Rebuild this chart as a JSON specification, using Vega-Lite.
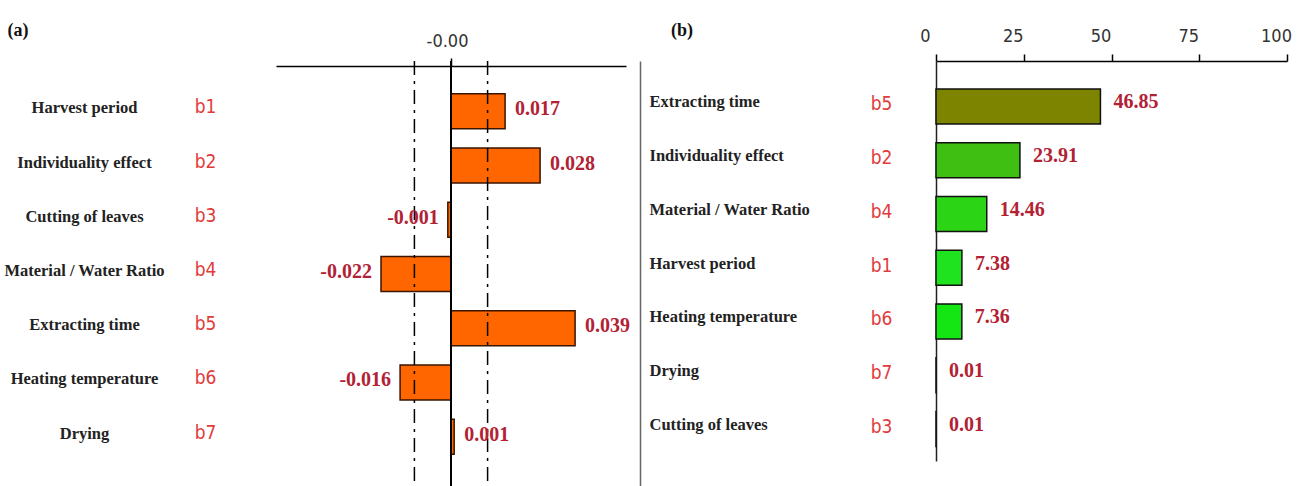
{
  "$schema": "https://vega.github.io/schema/vega-lite/v6.json",
  "background": "white",
  "padding": {"left": 3, "top": 22, "right": 0, "bottom": 0},
  "config": {
    "view": {"stroke": null},
    "axis": {"grid": false},
    "locale": {"number": {"decimal": ".", "thousands": ",", "grouping": [3], "currency": ["$", ""], "minus": "-"}}
  },
  "bounds": "flush",
  "spacing": 310,
  "hconcat": [
    {
      "title": {"text": "(a)", "anchor": "start", "frame": "bounds", "font": "Liberation Serif", "fontSize": 18, "fontWeight": "bold", "color": "#111", "offset": 0, "dx": 4, "dy": 22, "baseline": "alphabetic"},
      "width": 350,
      "height": 426,
      "data": {"values": [
        {"factor": "Harvest period", "code": "b1", "coef": 0.017},
        {"factor": "Individuality effect", "code": "b2", "coef": 0.028},
        {"factor": "Cutting of leaves", "code": "b3", "coef": -0.001},
        {"factor": "Material / Water Ratio", "code": "b4", "coef": -0.022},
        {"factor": "Extracting time", "code": "b5", "coef": 0.039},
        {"factor": "Heating temperature", "code": "b6", "coef": -0.016},
        {"factor": "Drying", "code": "b7", "coef": 0.001}
      ]},
      "resolve": {"scale": {"y": "independent"}, "axis": {"y": "independent"}},
      "layer": [
        {
          "mark": {"type": "bar", "fill": "#FF6600", "stroke": "#3a1500", "strokeWidth": 1.5},
          "encoding": {
            "y": {"field": "factor", "type": "nominal", "sort": null,
              "scale": {"type": "band", "paddingInner": 0.355, "paddingOuter": 0.604, "align": 0.5},
              "axis": {"orient": "left", "title": null, "domain": false, "ticks": false, "tickSize": 0, "labelPadding": 192, "labelAlign": "center", "labelFont": "Liberation Serif", "labelFontWeight": "bold", "labelFontSize": 16.5, "labelColor": "#222", "labelLimit": 300, "labelOffset": -3}},
            "x": {"field": "coef", "type": "quantitative",
              "scale": {"domain": [-0.055, 0.055], "nice": false, "zero": false},
              "axis": {"orient": "top", "title": null, "values": [0], "labelExpr": "'-0.00'", "offset": -5, "domainColor": "#000", "domainWidth": 1.5, "tickColor": "#000", "tickWidth": 1.5, "tickSize": 8, "labelPadding": 8, "labelFont": "Liberation Sans Narrow, DejaVu Sans Condensed, Liberation Sans", "labelFontSize": 18, "labelColor": "#333", "labelOffset": -4, "grid": false}}
          }
        },
        {
          "data": {"values": [{"limit": -0.0115}, {"limit": 0.0115}]},
          "mark": {"type": "rule", "color": "#000", "strokeWidth": 1.5, "strokeDash": [14, 6, 3, 6]},
          "encoding": {"x": {"field": "limit", "type": "quantitative"}}
        },
        {
          "mark": {"type": "rule", "color": "#000", "strokeWidth": 1.5},
          "encoding": {"x": {"datum": 0, "type": "quantitative"}}
        },
        {
          "mark": {"type": "text", "align": "left", "baseline": "middle", "dx": 10, "dy": -2, "font": "Liberation Serif", "fontWeight": "bold", "fontSize": 20, "color": "#B22234"},
          "encoding": {
            "y": {"field": "factor", "type": "nominal", "sort": null, "scale": {"type": "band", "paddingInner": 0.355, "paddingOuter": 0.604, "align": 0.5}, "axis": null},
            "x": {"field": "coef", "type": "quantitative"},
            "text": {"condition": {"test": "datum.coef >= 0", "field": "coef", "type": "quantitative", "format": ".3f"}, "value": ""}
          }
        },
        {
          "mark": {"type": "text", "align": "right", "baseline": "middle", "dx": -9, "dy": -2, "font": "Liberation Serif", "fontWeight": "bold", "fontSize": 20, "color": "#B22234"},
          "encoding": {
            "y": {"field": "factor", "type": "nominal", "sort": null, "scale": {"type": "band", "paddingInner": 0.355, "paddingOuter": 0.604, "align": 0.5},
              "axis": {"orient": "right", "offset": 14, "title": null, "labels": false, "ticks": false, "domainColor": "#666", "domainWidth": 1.5}},
            "x": {"field": "coef", "type": "quantitative"},
            "text": {"condition": {"test": "datum.coef < 0", "field": "coef", "type": "quantitative", "format": ".3f"}, "value": ""}
          }
        },
        {
          "mark": {"type": "text", "opacity": 0},
          "encoding": {
            "y": {"field": "code", "type": "nominal", "sort": null, "scale": {"type": "band", "paddingInner": 0.355, "paddingOuter": 0.604, "align": 0.5},
              "axis": {"orient": "left", "title": null, "domain": false, "ticks": false, "tickSize": 0, "labelPadding": 71, "labelAlign": "center", "labelFont": "Liberation Sans Narrow, DejaVu Sans Condensed, Liberation Sans", "labelFontSize": 19, "labelColor": "#E23B3B", "labelOffset": -4}},
            "text": {"field": "code", "type": "nominal"}
          }
        }
      ]
    },
    {
      "title": {"text": "(b)", "anchor": "start", "frame": "bounds", "font": "Liberation Serif", "fontSize": 18, "fontWeight": "bold", "color": "#111", "offset": 0, "dx": 22, "dy": 27, "baseline": "alphabetic"},
      "width": 351,
      "height": 400,
      "data": {"values": [
        {"factor": "Extracting time", "code": "b5", "pct": 46.85},
        {"factor": "Individuality effect", "code": "b2", "pct": 23.91},
        {"factor": "Material / Water Ratio", "code": "b4", "pct": 14.46},
        {"factor": "Harvest period", "code": "b1", "pct": 7.38},
        {"factor": "Heating temperature", "code": "b6", "pct": 7.36},
        {"factor": "Drying", "code": "b7", "pct": 0.01},
        {"factor": "Cutting of leaves", "code": "b3", "pct": 0.01}
      ]},
      "resolve": {"scale": {"y": "independent"}, "axis": {"y": "independent"}},
      "layer": [
        {
          "mark": {"type": "bar", "stroke": "#111", "strokeWidth": 1.5},
          "encoding": {
            "y": {"field": "factor", "type": "nominal", "sort": null,
              "scale": {"type": "band", "paddingInner": 0.349, "paddingOuter": 0.396, "align": 0.657},
              "axis": {"orient": "left", "title": null, "domain": true, "domainColor": "#222", "domainWidth": 1.5, "ticks": false, "tickSize": 0, "labelPadding": 287, "labelAlign": "left", "labelFont": "Liberation Serif", "labelFontWeight": "bold", "labelFontSize": 16.5, "labelColor": "#222", "labelLimit": 300, "labelOffset": -4}},
            "x": {"field": "pct", "type": "quantitative",
              "scale": {"domain": [0, 100], "nice": false},
              "axis": {"orient": "top", "title": null, "values": [0, 25, 50, 75, 100], "domainColor": "#000", "domainWidth": 1.5, "tickColor": "#000", "tickWidth": 1.5, "tickSize": 7, "labelPadding": 9, "labelFont": "Liberation Sans Narrow, DejaVu Sans Condensed, Liberation Sans", "labelFontSize": 18, "labelColor": "#333", "labelOffset": -11, "labelFlush": false, "grid": false}},
            "color": {"field": "code", "type": "nominal", "legend": null,
              "scale": {"domain": ["b5", "b2", "b4", "b1", "b6", "b7", "b3"], "range": ["#7d8500", "#3fbf12", "#2bd414", "#1fe31f", "#14e614", "#14e614", "#14e614"]}}
          }
        },
        {
          "mark": {"type": "text", "align": "left", "baseline": "middle", "dx": 13, "dy": -4, "font": "Liberation Serif", "fontWeight": "bold", "fontSize": 20, "color": "#B22234"},
          "encoding": {
            "y": {"field": "factor", "type": "nominal", "sort": null, "scale": {"type": "band", "paddingInner": 0.349, "paddingOuter": 0.396, "align": 0.657}, "axis": null},
            "x": {"field": "pct", "type": "quantitative"},
            "text": {"field": "pct", "type": "quantitative", "format": ".2f"}
          }
        },
        {
          "mark": {"type": "text", "opacity": 0},
          "encoding": {
            "y": {"field": "code", "type": "nominal", "sort": null, "scale": {"type": "band", "paddingInner": 0.349, "paddingOuter": 0.396, "align": 0.657},
              "axis": {"orient": "left", "title": null, "domain": false, "ticks": false, "tickSize": 0, "labelPadding": 55, "labelAlign": "center", "labelFont": "Liberation Sans Narrow, DejaVu Sans Condensed, Liberation Sans", "labelFontSize": 19, "labelColor": "#E23B3B", "labelOffset": -2}},
            "text": {"field": "code", "type": "nominal"}
          }
        }
      ]
    }
  ]
}
